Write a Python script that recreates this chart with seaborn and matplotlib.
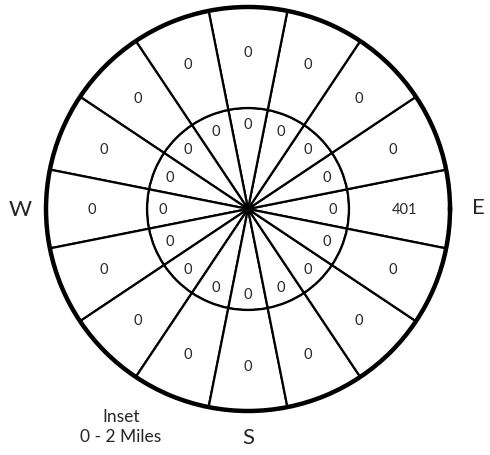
import numpy as np
import matplotlib
matplotlib.use("Agg")
import matplotlib.pyplot as plt
import seaborn as sns

# 16 compass sectors, counter-clockwise starting at East
directions = ["E", "ENE", "NE", "NNE", "N", "NNW", "NW", "WNW",
              "W", "WSW", "SW", "SSW", "S", "SSE", "SE", "ESE"]
sector_deg = [0, 22.5, 45, 67.5, 90, 112.5, 135, 157.5,
              180, 202.5, 225, 247.5, 270, 292.5, 315, 337.5]
inner_counts = [0] * 16   # 0 - 2 miles
outer_counts = [401, 0, 0, 0, 0, 0, 0, 0, 0, 0, 0, 0, 0, 0, 0, 0]
compass_labels = ["W", "E", "S"]

sns.set_theme(style="white")
plt.rcParams["font.family"] = ["Lato", "DejaVu Sans"]

fig = plt.figure(figsize=(4.9, 4.56), dpi=100)
ax = fig.add_axes([0.0939, 0.0965, 0.8245, 0.886], projection="polar")

theta = np.deg2rad(sector_deg)
width = 2 * np.pi / len(directions)

# inner ring (radius 0-1) and outer ring (radius 1-2)
ax.bar(theta, [1] * 16, width=width, bottom=0, color="white",
       edgecolor="black", linewidth=1.6)
ax.bar(theta, [1] * 16, width=width, bottom=1, color="white",
       edgecolor="black", linewidth=1.6)
ax.scatter([0], [0], s=30, color="black", zorder=5)

for t, v in zip(theta, inner_counts):
    ax.text(t, 0.84, str(v), ha="center", va="center", fontsize=10.5)
for t, v in zip(theta, outer_counts):
    ax.text(t, 1.55, str(v), ha="center", va="center", fontsize=10.5)

ax.set_ylim(0, 2)
ax.set_xticks([])
ax.set_yticks([])
ax.grid(False)
ax.spines["polar"].set_linewidth(3.2)
ax.spines["polar"].set_color("black")

# compass letters and caption
fig.text(20 / 490, 1 - 210 / 456, compass_labels[0], ha="center", va="center", fontsize=16)
fig.text(478 / 490, 1 - 208 / 456, compass_labels[1], ha="center", va="center", fontsize=16)
fig.text(248 / 490, 1 - 438 / 456, compass_labels[2], ha="center", va="center", fontsize=16)
fig.text(121 / 490, 1 - 427 / 456, "Inset\n0 - 2 Miles", ha="center", va="center",
         fontsize=12.5, linespacing=1.25)

fig.savefig("out.png", dpi=100, facecolor="white")
